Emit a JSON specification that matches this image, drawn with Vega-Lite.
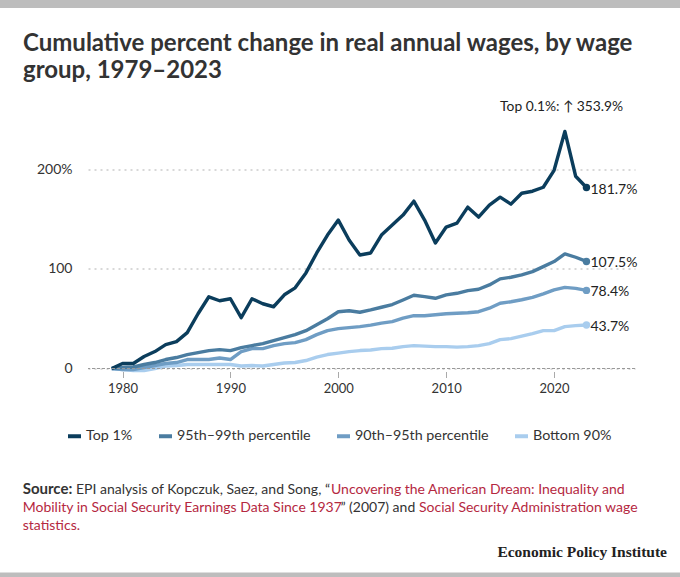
{
  "$schema": "https://vega.github.io/schema/vega-lite/v6.json",
  "width": 547,
  "height": 249,
  "autosize": {"type": "none"},
  "padding": {"left": 88, "top": 119.5, "right": 45, "bottom": 208.5},
  "background": "white",
  "title": {
    "text": ["Cumulative percent change in real annual wages, by wage", "group, 1979–2023"],
    "anchor": "start",
    "frame": "group",
    "dx": -65,
    "offset": -102,
    "baseline": "alphabetic",
    "font": "Lato",
    "fontSize": 24,
    "fontWeight": "bold",
    "color": "#333333",
    "lineHeight": 27
  },
  "config": {"view": {"stroke": null}, "font": "Lato"},
  "data": {
    "values": [
      {"year": 1979, "top1": 0, "p95": 0, "p90": 0, "b90": 0},
      {"year": 1980, "top1": 5, "p95": 1, "p90": -1, "b90": -1},
      {"year": 1981, "top1": 5, "p95": 1.5, "p90": -1, "b90": -2},
      {"year": 1982, "top1": 12, "p95": 4, "p90": 1, "b90": -2},
      {"year": 1983, "top1": 17, "p95": 6, "p90": 3, "b90": 0},
      {"year": 1984, "top1": 24, "p95": 9, "p90": 5, "b90": 2.5},
      {"year": 1985, "top1": 27, "p95": 11, "p90": 6, "b90": 3},
      {"year": 1986, "top1": 36, "p95": 14, "p90": 9, "b90": 4},
      {"year": 1987, "top1": 55, "p95": 16, "p90": 9, "b90": 4},
      {"year": 1988, "top1": 72, "p95": 18, "p90": 9, "b90": 4},
      {"year": 1989, "top1": 68, "p95": 19, "p90": 10.5, "b90": 4},
      {"year": 1990, "top1": 70, "p95": 18, "p90": 9, "b90": 4},
      {"year": 1991, "top1": 51, "p95": 21, "p90": 17, "b90": 2.5},
      {"year": 1992, "top1": 70, "p95": 23, "p90": 20, "b90": 3},
      {"year": 1993, "top1": 65, "p95": 25, "p90": 20, "b90": 2.5},
      {"year": 1994, "top1": 62, "p95": 28, "p90": 23, "b90": 4},
      {"year": 1995, "top1": 74, "p95": 31, "p90": 25, "b90": 5.5},
      {"year": 1996, "top1": 81, "p95": 34, "p90": 26, "b90": 6},
      {"year": 1997, "top1": 96, "p95": 38, "p90": 29, "b90": 8},
      {"year": 1998, "top1": 116, "p95": 44, "p90": 34, "b90": 11.5},
      {"year": 1999, "top1": 134, "p95": 50, "p90": 38, "b90": 14},
      {"year": 2000, "top1": 149, "p95": 57, "p90": 40, "b90": 15.5},
      {"year": 2001, "top1": 129, "p95": 58, "p90": 41, "b90": 17},
      {"year": 2002, "top1": 114, "p95": 56.5, "p90": 42, "b90": 18},
      {"year": 2003, "top1": 116, "p95": 58.8, "p90": 43.5, "b90": 18.6},
      {"year": 2004, "top1": 134, "p95": 61.5, "p90": 45.5, "b90": 20},
      {"year": 2005, "top1": 144, "p95": 64.2, "p90": 47, "b90": 20.3},
      {"year": 2006, "top1": 154, "p95": 68.8, "p90": 50.5, "b90": 22},
      {"year": 2007, "top1": 168, "p95": 73.5, "p90": 53, "b90": 23},
      {"year": 2008, "top1": 149, "p95": 72.2, "p90": 53, "b90": 22.5},
      {"year": 2009, "top1": 126, "p95": 70.5, "p90": 54, "b90": 22},
      {"year": 2010, "top1": 142, "p95": 73.9, "p90": 55, "b90": 22},
      {"year": 2011, "top1": 146, "p95": 75.5, "p90": 55.5, "b90": 21.5},
      {"year": 2012, "top1": 162, "p95": 78.2, "p90": 56, "b90": 22},
      {"year": 2013, "top1": 152, "p95": 79.6, "p90": 57, "b90": 23},
      {"year": 2014, "top1": 164, "p95": 83.9, "p90": 60.5, "b90": 25},
      {"year": 2015, "top1": 172, "p95": 90, "p90": 65.5, "b90": 29},
      {"year": 2016, "top1": 165, "p95": 91.6, "p90": 67, "b90": 30},
      {"year": 2017, "top1": 176, "p95": 94, "p90": 69, "b90": 32.5},
      {"year": 2018, "top1": 178, "p95": 97.3, "p90": 71.5, "b90": 35},
      {"year": 2019, "top1": 182, "p95": 102.3, "p90": 75, "b90": 38},
      {"year": 2020, "top1": 199, "p95": 107.4, "p90": 79, "b90": 38},
      {"year": 2021, "top1": 238, "p95": 115.1, "p90": 81.5, "b90": 42},
      {"year": 2022, "top1": 193, "p95": 111.7, "p90": 80.5, "b90": 43},
      {"year": 2023, "top1": 181.7, "p95": 107.5, "p90": 78.4, "b90": 43.7}
    ]
  },
  "transform": [
    {"fold": ["b90", "p90", "p95", "top1"], "as": ["group", "value"]}
  ],
  "layer": [
    {
      "data": {"values": [{}]},
      "mark": {"type": "rect", "color": "#bdbdbd"},
      "encoding": {
        "x": {"value": -88}, "x2": {"value": 592},
        "y": {"value": -119.5}, "y2": {"value": -111.5}
      }
    },
    {
      "data": {"values": [{}]},
      "mark": {"type": "rect", "color": "#bdbdbd"},
      "encoding": {
        "x": {"value": -88}, "x2": {"value": 592},
        "y": {"value": 453}, "y2": {"value": 457.5}
      }
    },
    {
      "mark": {"type": "line", "strokeWidth": 3.4, "strokeJoin": "round"},
      "encoding": {
        "x": {
          "field": "year",
          "type": "quantitative",
          "scale": {"domain": [1976.8, 2027.5], "nice": false, "zero": false},
          "axis": {
            "values": [1980, 1990, 2000, 2010, 2020],
            "format": "d",
            "title": null,
            "domain": false,
            "grid": false,
            "tickColor": "#aaaaaa",
            "tickSize": 6,
            "offset": 3,
            "labelFontSize": 13,
            "labelColor": "#333333",
            "labelPadding": 5
          }
        },
        "y": {
          "field": "value",
          "type": "quantitative",
          "scale": {"domain": [0, 250], "nice": false},
          "axis": {
            "values": [0, 100, 200],
            "title": null,
            "domain": false,
            "ticks": false,
            "labelPadding": 16,
            "labelFontSize": 14,
            "labelColor": "#333333",
            "labelExpr": "datum.value == 200 ? '200%' : datum.label",
            "grid": true,
            "gridColor": "#cccccc",
            "gridDash": [2, 4],
            "gridWidth": 1.5
          }
        },
        "color": {
          "field": "group",
          "type": "nominal",
          "scale": {
            "domain": ["top1", "p95", "p90", "b90"],
            "range": ["#0b3d5c", "#4a7ca0", "#6f9dc4", "#a9cdee"]
          },
          "legend": {
            "title": null,
            "orient": "none",
            "legendX": -22,
            "legendY": 308,
            "direction": "horizontal",
            "columns": 4,
            "symbolType": "stroke",
            "symbolSize": 169,
            "symbolStrokeWidth": 4,
            "labelFontSize": 14.3,
            "labelColor": "#333333",
            "labelOffset": 3,
            "columnPadding": 18,
            "labelExpr": "datum.label == 'top1' ? 'Top 1%' : datum.label == 'p95' ? '95th–99th percentile' : datum.label == 'p90' ? '90th–95th percentile' : 'Bottom 90%'"
          }
        }
      }
    },
    {
      "data": {"values": [{}]},
      "mark": {"type": "rule", "color": "#999999", "strokeDash": [3, 2], "strokeWidth": 1},
      "encoding": {"y": {"datum": 0}}
    },
    {
      "transform": [{"filter": "datum.year == 2023"}],
      "mark": {"type": "circle", "size": 55, "opacity": 1},
      "encoding": {
        "x": {"field": "year", "type": "quantitative"},
        "y": {"field": "value", "type": "quantitative"},
        "color": {"field": "group", "type": "nominal"}
      }
    },
    {
      "transform": [
        {"filter": "datum.year == 2023"},
        {"calculate": "format(datum.value, '.1f') + '%'", "as": "label"}
      ],
      "mark": {"type": "text", "align": "left", "baseline": "middle", "dx": 4, "dy": 2, "fontSize": 14, "color": "#222222"},
      "encoding": {
        "x": {"field": "year", "type": "quantitative"},
        "y": {"field": "value", "type": "quantitative"},
        "text": {"field": "label"}
      }
    },
    {
      "data": {"values": [{}]},
      "mark": {"type": "text", "text": "Top 0.1%: ↑ 353.9%", "align": "center", "baseline": "alphabetic", "fontSize": 13.8, "color": "#222222"},
      "encoding": {"x": {"datum": 2020.7}, "y": {"datum": 259}}
    },
    {
      "data": {"values": [{}]},
      "mark": {"type": "text", "text": "Source:", "x": -65.3, "y": 374, "align": "left", "baseline": "alphabetic", "fontSize": 15, "fontWeight": "bold", "color": "#333333"}
    },
    {
      "data": {"values": [{}]},
      "mark": {"type": "text", "text": "EPI analysis of Kopczuk, Saez, and Song, “", "x": -12, "y": 374, "align": "left", "baseline": "alphabetic", "fontSize": 14, "color": "#333333"}
    },
    {
      "data": {"values": [{}]},
      "mark": {"type": "text", "text": "Uncovering the American Dream: Inequality and", "x": 243, "y": 374, "align": "left", "baseline": "alphabetic", "fontSize": 14, "color": "#b5283f"}
    },
    {
      "data": {"values": [{}]},
      "mark": {"type": "text", "text": "Mobility in Social Security Earnings Data Since 1937", "x": -65.3, "y": 392, "align": "left", "baseline": "alphabetic", "fontSize": 14, "color": "#b5283f"}
    },
    {
      "data": {"values": [{}]},
      "mark": {"type": "text", "text": "” (2007) and", "x": 252.5, "y": 392, "align": "left", "baseline": "alphabetic", "fontSize": 14, "color": "#333333"}
    },
    {
      "data": {"values": [{}]},
      "mark": {"type": "text", "text": "Social Security Administration wage", "x": 331, "y": 392, "align": "left", "baseline": "alphabetic", "fontSize": 14, "color": "#b5283f"}
    },
    {
      "data": {"values": [{}]},
      "mark": {"type": "text", "text": "statistics.", "x": -65.3, "y": 410, "align": "left", "baseline": "alphabetic", "fontSize": 14, "color": "#b5283f"}
    },
    {
      "data": {"values": [{}]},
      "mark": {"type": "text", "text": "Economic Policy Institute", "x": 579, "y": 437.5, "align": "right", "baseline": "alphabetic", "font": "Liberation Serif", "fontSize": 15.5, "fontWeight": "bold", "color": "#222222"}
    }
  ]
}
